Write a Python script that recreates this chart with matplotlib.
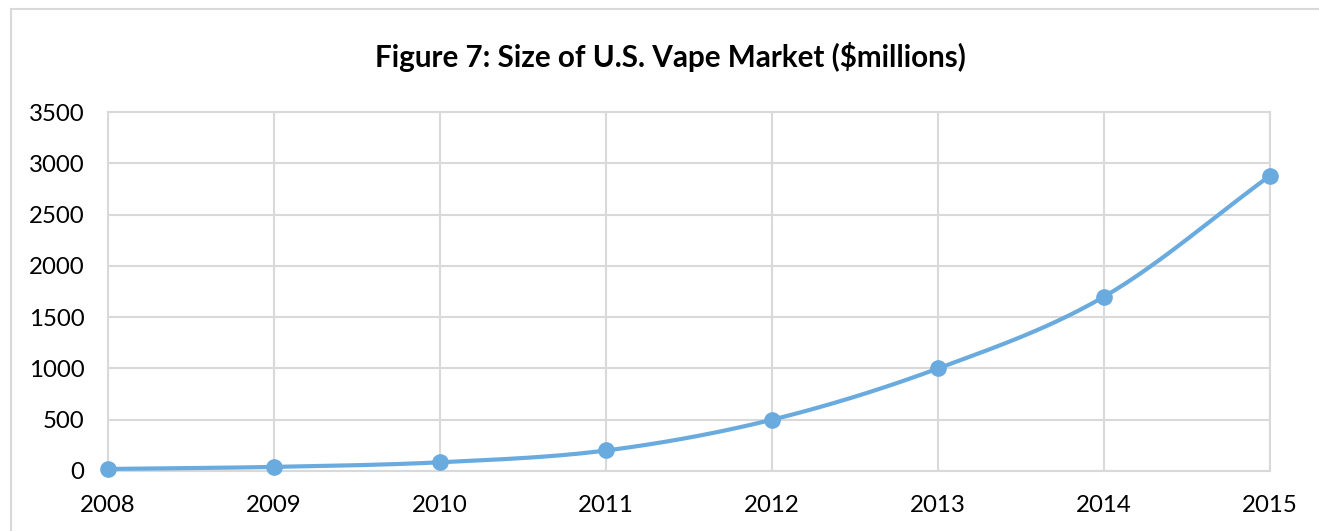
import numpy as np
import matplotlib.pyplot as plt
from matplotlib.patches import Rectangle

years = [2008, 2009, 2010, 2011, 2012, 2013, 2014, 2015]
market_size = [20, 40, 85, 200, 500, 1000, 1700, 2880]

plt.rcParams['font.family'] = ['Lato', 'DejaVu Sans']


def smooth(x, y, n=30):
    # Catmull-Rom style curve, like Excel's smoothed line
    x = np.asarray(x, float)
    y = np.asarray(y, float)
    px = np.concatenate([[2 * x[0] - x[1]], x, [2 * x[-1] - x[-2]]])
    py = np.concatenate([[2 * y[0] - y[1]], y, [2 * y[-1] - y[-2]]])
    xs, ys = [], []
    t = np.linspace(0, 1, n)
    for i in range(1, len(px) - 2):
        p0, p1, p2, p3 = [np.array([px[j], py[j]]) for j in (i - 1, i, i + 1, i + 2)]
        c1 = p1 + (p2 - p0) / 6
        c2 = p2 - (p3 - p1) / 6
        pts = ((1 - t) ** 3)[:, None] * p1 + (3 * (1 - t) ** 2 * t)[:, None] * c1 \
            + (3 * (1 - t) * t ** 2)[:, None] * c2 + (t ** 3)[:, None] * p2
        xs.extend(pts[:, 0])
        ys.extend(pts[:, 1])
    return np.array(xs), np.array(ys)


fig = plt.figure(figsize=(13.19, 5.31), dpi=100)
ax = fig.add_axes([0.0819, 0.113, 0.881, 0.676])

grid_col = "#d9d9d9"
line_col = "#6aabdf"

sx, sy = smooth(years, market_size)
ax.plot(sx, sy, color=line_col, lw=3, zorder=3, solid_capstyle="round", clip_on=False)
ax.plot(years, market_size, "o", color=line_col, ms=11, zorder=4, clip_on=False)

ax.set_xlim(2008, 2015)
ax.set_ylim(0, 3500)
ax.set_yticks(range(0, 3501, 500))
ax.set_xticks(years)
ax.grid(True, color=grid_col, lw=1.5)
ax.set_axisbelow(True)
for s in ax.spines.values():
    s.set_color(grid_col)
    s.set_linewidth(1.5)
ax.tick_params(length=0, labelsize=17.3, colors="black")
ax.tick_params(axis="x", pad=17)
ax.tick_params(axis="y", pad=17)

fig.text(0.508, 0.892, "Figure 7: Size of U.S. Vape Market ($millions)",
         ha="center", va="center", fontsize=21.3, fontweight="bold")

# chart area border (only top and left edges fall inside the image)
fig.patches.append(Rectangle((11 / 1319, -0.5), 2, 1 - 9 / 531 + 0.5,
                             transform=fig.transFigure, fill=False,
                             edgecolor=grid_col, lw=1.5))

fig.savefig("out.png", dpi=100)
